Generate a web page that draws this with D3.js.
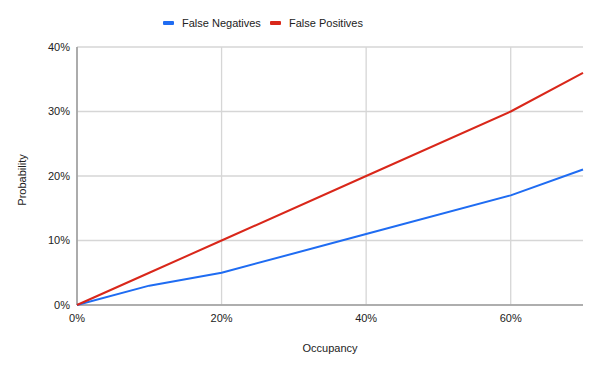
<!DOCTYPE html>
<html><head><meta charset="utf-8">
<script src="https://cdn.jsdelivr.net/npm/d3@7"></script>
<style>body{margin:0;background:#fff}svg{display:block;font-family:"Liberation Sans",Arial,sans-serif}</style>
</head><body><svg id="c" width="600" height="371"></svg>
<script>
const seriesNames = ["False Negatives", "False Positives"];
const seriesColors = ["#1f6cf2", "#d9271a"];
const occupancy = [0, 0.1, 0.2, 0.4, 0.6, 0.7];
const falseNegatives = [0, 0.03, 0.05, 0.11, 0.17, 0.21];
const falsePositives = [0, 0.05, 0.10, 0.20, 0.30, 0.36];
const xTicks = [0, 0.2, 0.4, 0.6];
const yTicks = [0, 0.1, 0.2, 0.3, 0.4];

const svg = d3.select("#c");
const m = {l:77, r:583, t:47, b:305};
const x = d3.scaleLinear().domain([0, 0.7]).range([m.l, m.r]);
const y = d3.scaleLinear().domain([0, 0.4]).range([m.b, m.t]);
const fmt = d3.format(".0%");
const fs = 11;

svg.append("g").selectAll("line").data(yTicks).join("line")
  .attr("x1", m.l).attr("x2", m.r).attr("y1", d=>y(d)).attr("y2", d=>y(d))
  .attr("stroke", "#d6d6d6").attr("stroke-width", 1.3);
svg.append("g").selectAll("line").data(xTicks).join("line")
  .attr("y1", m.t).attr("y2", m.b).attr("x1", d=>x(d)).attr("x2", d=>x(d))
  .attr("stroke", "#d6d6d6").attr("stroke-width", 1.3);

svg.append("line").attr("x1", m.l).attr("x2", m.l).attr("y1", m.t).attr("y2", m.b)
  .attr("stroke", "#9e9e9e").attr("stroke-width", 1.6);
svg.append("line").attr("x1", m.l).attr("x2", m.r).attr("y1", m.b).attr("y2", m.b)
  .attr("stroke", "#9e9e9e").attr("stroke-width", 1.6);

svg.append("g").selectAll("text").data(yTicks).join("text")
  .attr("x", 70).attr("y", d=>y(d)).attr("dy", "0.35em").attr("text-anchor", "end")
  .attr("font-size", fs).attr("fill", "#222").text(fmt);
svg.append("g").selectAll("text").data(xTicks).join("text")
  .attr("x", d=>x(d)).attr("y", 318).attr("dy", "0.35em").attr("text-anchor", "middle")
  .attr("font-size", fs).attr("fill", "#222").text(fmt);

svg.append("text").attr("x", 330).attr("y", 348).attr("dy", "0.35em").attr("text-anchor", "middle")
  .attr("font-size", fs).attr("fill", "#222").text("Occupancy");
svg.append("text").attr("transform", "translate(22,180) rotate(-90)").attr("dy", "0.35em")
  .attr("text-anchor", "middle").attr("font-size", fs).attr("fill", "#222").text("Probability");

const line = d3.line().x((d,i)=>x(occupancy[i])).y(d=>y(d));
[falseNegatives, falsePositives].forEach((s, k) => {
  svg.append("path").datum(s).attr("d", line).attr("fill", "none")
    .attr("stroke", seriesColors[k]).attr("stroke-width", 2).attr("stroke-linejoin", "round");
});

const legX = [163, 270];
seriesNames.forEach((n, k) => {
  svg.append("rect").attr("x", legX[k]).attr("y", 21).attr("width", 11).attr("height", 4)
    .attr("rx", 1).attr("fill", seriesColors[k]);
  svg.append("text").attr("x", legX[k] + 19).attr("y", 23).attr("dy", "0.35em")
    .attr("font-size", fs).attr("fill", "#222").text(n);
});
</script></body></html>
